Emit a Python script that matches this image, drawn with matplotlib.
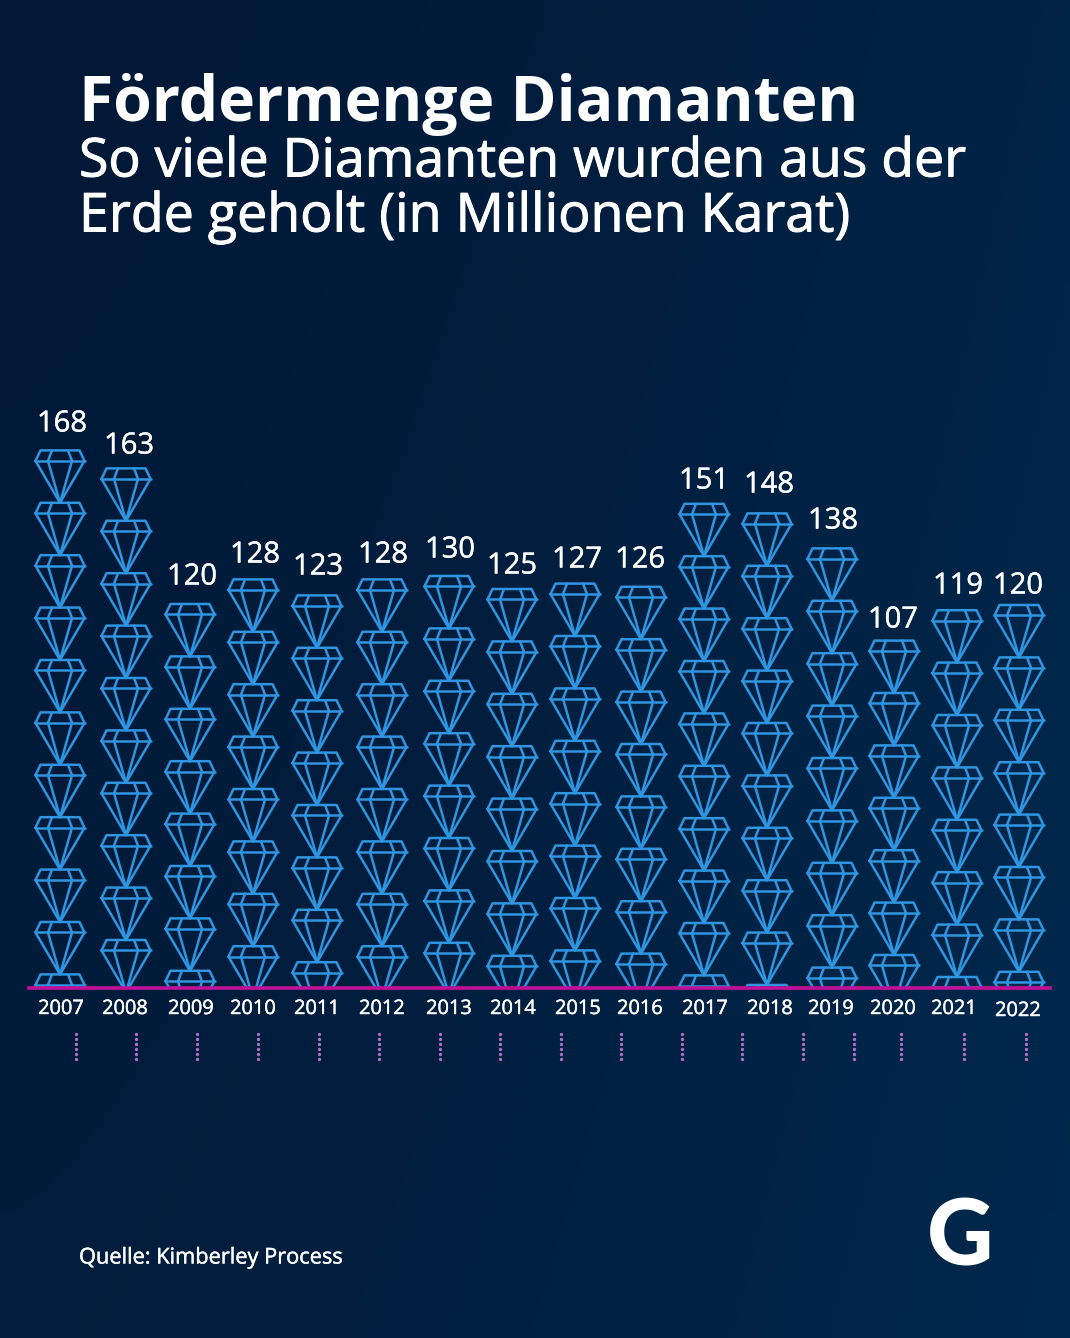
import numpy as np
import matplotlib
matplotlib.use("Agg")
import matplotlib.pyplot as plt
import matplotlib.patheffects as pe
from matplotlib.lines import Line2D

years = ["2007", "2008", "2009", "2010", "2011", "2012", "2013", "2014",
         "2015", "2016", "2017", "2018", "2019", "2020", "2021", "2022"]
values = [168, 163, 120, 128, 123, 128, 130, 125,
          127, 126, 151, 148, 138, 107, 119, 120]

# layout, in pixels of the picture (the original columns are not evenly spaced)
stack_x = [60, 126, 190, 253, 317, 382, 449, 512, 575, 641, 704, 767, 832, 894, 957, 1019]
stack_nudge = [0, 2, 0, 1, 1, 1, 4, 1, 2, 2, -1, -1, 2, -5, 3, 1]
year_x = [61, 125, 191, 253, 317, 382, 449, 513, 578, 640, 705, 770, 831, 893, 954, 1018]
year_y = [1007] * 15 + [1009]
value_x = [62, 129, 192, 255, 318, 383, 450, 512, 577, 640, 704, 769, 833, 893, 958, 1018]
value_y = [421, 443, 574, 552, 564, 552, 547, 563, 557, 557, 478, 482, 518, 617, 583, 583]
dot_x = [76, 136, 197, 258, 319, 379, 440, 500, 561, 621, 682, 742, 803, 854, 901, 964, 1026]

W, H = 1070, 1338
BASE_Y = 988
PX_PER_UNIT = 3.2
DIAMOND_H = 52.4 / PX_PER_UNIT  # one diamond in Mio. karat
LINE = "#2f95e0"
FONT = "Open Sans"
THICK = [pe.withStroke(linewidth=0.7, foreground="white")]
THIN = [pe.withStroke(linewidth=0.3, foreground="white")]

fig = plt.figure(figsize=(W / 100, H / 100), dpi=100)

# background and all free text on a pixel axes
bg = fig.add_axes([0, 0, 1, 1])
bg.set_xlim(0, W)
bg.set_ylim(H, 0)
bg.axis("off")

yy, xx = np.mgrid[0:1:134j, 0:1:107j]
t = np.clip(0.75 * xx ** 1.5 + 0.3 * yy, 0, 1)
c0 = np.array([2, 24, 54]) / 255
c1 = np.array([0, 40, 76]) / 255
bg_img = c0 + (c1 - c0) * t[..., None]
bg.imshow(bg_img, extent=(0, W, H, 0), aspect="auto", interpolation="bilinear", zorder=0)

bg.text(79, 105, "Fördermenge Diamanten", color="white", fontsize=44.9, fontweight="bold",
        family=FONT, va="center", ha="left")
bg.text(79, 162, "So viele Diamanten wurden aus der", color="white", fontsize=38.6,
        family=FONT, va="center", ha="left", path_effects=THICK)
bg.text(79, 217, "Erde geholt (in Millionen Karat)", color="white", fontsize=38.7,
        family=FONT, va="center", ha="left", path_effects=THICK)

for x, y, year in zip(year_x, year_y, years):
    bg.text(x, y + 2, year, color="white", fontsize=14.4, family=FONT, ha="center", va="center",
            path_effects=THIN)

for x, y, v in zip(value_x, value_y, values):
    bg.text(x, y + 3, str(v), color="white", fontsize=21, family=FONT, ha="center", va="center",
            path_effects=THIN)

for x in dot_x:
    bg.plot([x] * 6, 1034 + 5 * np.arange(6), ls="none", marker="o", ms=2.4,
            color="#b070c4", mew=0)

bg.text(79, 1258, "Quelle: Kimberley Process", color="white", fontsize=15.7, family=FONT,
        ha="left", va="center", path_effects=THIN)
bg.text(960, 1240, "G", color="white", fontsize=66, fontweight=900, family="Lato",
        ha="center", va="center")

# the chart itself: y in Mio. karat, diamonds get clipped at the axis bottom
top_y = 400
ax = fig.add_axes([0, 1 - BASE_Y / H, 1, (BASE_Y - top_y) / H])
ax.set_xlim(0, W)
ax.set_ylim(0, (BASE_Y - top_y) / PX_PER_UNIT)
ax.axis("off")
ax.patch.set_alpha(0)


def draw_diamond(cx, top):
    h = DIAMOND_H
    def seg(us, vs):
        ax.plot(cx + np.array(us), top - np.array(vs) * h, color=LINE, lw=1.8,
                solid_joinstyle="round", solid_capstyle="round")
    seg([-24.5, -19.5, 19.5, 24.5, 0, -24.5], [0.2, 0, 0, 0.2, 1, 0.2])
    seg([-24.5, 24.5], [0.2, 0.2])
    seg([-8, -12, 0, 12, 8], [0, 0.2, 1, 0.2, 0])


for x, v, nudge in zip(stack_x, values, stack_nudge):
    top = v - nudge / PX_PER_UNIT
    n = int(np.ceil(top / DIAMOND_H))
    for i in range(n):
        draw_diamond(x, top - i * DIAMOND_H)

# magenta base line on top of the diamonds
fig.add_artist(Line2D([29 / W, 1050 / W], [1 - BASE_Y / H] * 2, color="#c0109a", lw=2.6))

fig.savefig("out.png", dpi=100)
